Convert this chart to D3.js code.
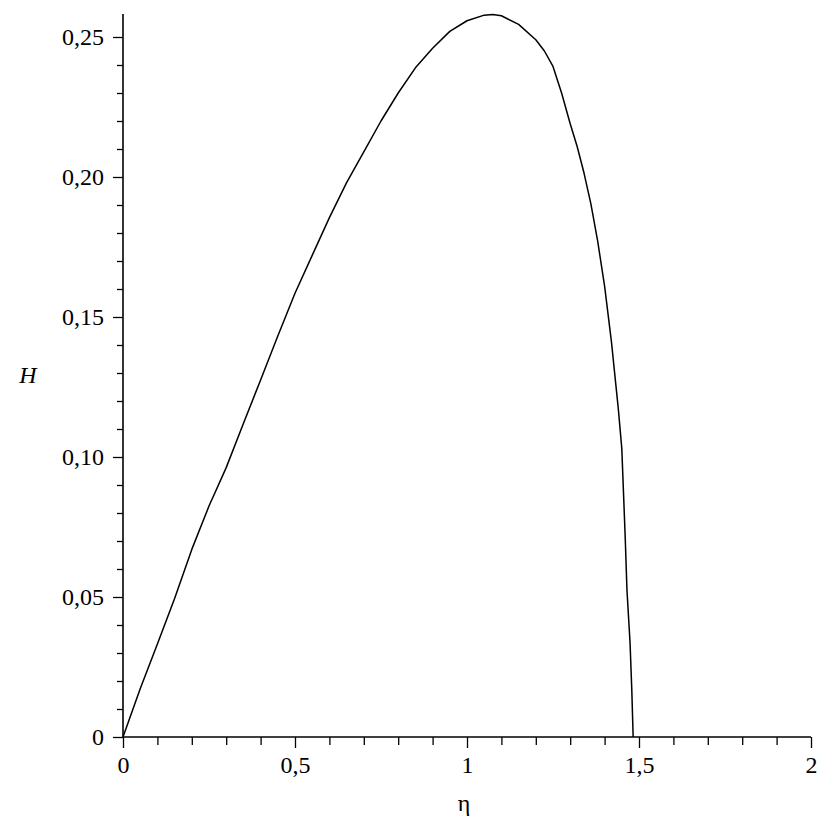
<!DOCTYPE html>
<html>
<head>
<meta charset="utf-8">
<script src="https://cdn.jsdelivr.net/npm/d3@7"></script>
<style>
  html, body { margin: 0; padding: 0; background: #fff; }
  svg { display: block; }
  .tick text { font-family: "Liberation Serif", "DejaVu Serif", serif; font-size: 24px; fill: #000; }
</style>
</head>
<body>
<svg id="chart" width="830" height="830"></svg>
<script>
// Data
const eta = [0, 0.05, 0.1, 0.15, 0.2, 0.25, 0.3, 0.35, 0.4, 0.45, 0.5, 0.55, 0.6, 0.65, 0.7,
  0.75, 0.8, 0.85, 0.9, 0.95, 1.0, 1.05, 1.075, 1.1, 1.15, 1.2, 1.225, 1.25, 1.275, 1.3, 1.32,
  1.34, 1.36, 1.38, 1.4, 1.42, 1.44, 1.45, 1.46, 1.465, 1.474, 1.479, 1.483];
const H = [0, 0.0172, 0.0332, 0.0495, 0.0670, 0.0825, 0.0962, 0.1120, 0.1275, 0.1432, 0.1585,
  0.1720, 0.1855, 0.1980, 0.2090, 0.2200, 0.2300, 0.2390, 0.2460, 0.2520, 0.2558, 0.2578,
  0.2580, 0.2576, 0.2545, 0.2490, 0.2450, 0.2395, 0.2300, 0.2190, 0.2110,
  0.2015, 0.1905, 0.1770, 0.1610, 0.1410, 0.1170, 0.1030, 0.0710, 0.0525, 0.0336, 0.0170, 0];

const xMajor = [0, 0.5, 1, 1.5, 2];
const xMinor = d3.range(0, 21).map(i => i / 10).filter(v => Math.round(v * 10) % 5 !== 0);
const yMajor = [0, 0.05, 0.10, 0.15, 0.20, 0.25];
const yMinor = d3.range(0, 26).map(i => i / 100).filter(v => Math.round(v * 100) % 5 !== 0);
const xLabels = ["0", "0,5", "1", "1,5", "2"];
const yLabels = ["0", "0,05", "0,10", "0,15", "0,20", "0,25"];

const svg = d3.select("#chart");
const x = d3.scaleLinear().domain([0, 2]).range([123, 811]);
const y = d3.scaleLinear().domain([0, 0.25]).range([737, 37]);
const yTop = 0.2582;

// minor ticks
svg.append("g").attr("transform", "translate(0,737)")
  .call(d3.axisBottom(x).tickValues(xMinor).tickSize(8).tickSizeOuter(0).tickFormat(""))
  .call(g => g.select(".domain").remove());
svg.append("g").attr("transform", "translate(123,0)")
  .call(d3.axisLeft(y).tickValues(yMinor).tickSize(6).tickSizeOuter(0).tickFormat(""))
  .call(g => g.select(".domain").remove());

// major ticks + labels
svg.append("g").attr("class", "xaxis").attr("transform", "translate(0,737)")
  .call(d3.axisBottom(x).tickValues(xMajor).tickSize(11).tickPadding(8).tickSizeOuter(0)
    .tickFormat((d, i) => xLabels[i]))
  .call(g => g.select(".domain").remove());
svg.append("g").attr("class", "yaxis").attr("transform", "translate(123,0)")
  .call(d3.axisLeft(y).tickValues(yMajor).tickSize(10).tickPadding(9).tickSizeOuter(0)
    .tickFormat((d, i) => yLabels[i]))
  .call(g => g.select(".domain").remove());

svg.selectAll(".tick line").attr("stroke", "#000").attr("stroke-width", 1.3);

// axis lines
svg.append("line").attr("x1", x(0)).attr("x2", x(2)).attr("y1", y(0)).attr("y2", y(0))
  .attr("stroke", "#000").attr("stroke-width", 1.6);
svg.append("line").attr("x1", x(0)).attr("x2", x(0)).attr("y1", y(0)).attr("y2", y(yTop))
  .attr("stroke", "#000").attr("stroke-width", 1.6);

// curve
const line = d3.line().x((d, i) => x(eta[i])).y((d, i) => y(H[i]));
svg.append("path").datum(H).attr("d", line)
  .attr("fill", "none").attr("stroke", "#000").attr("stroke-width", 1.5)
  .attr("stroke-linejoin", "round");

// axis titles
svg.append("text").attr("x", 28).attr("y", 383).attr("text-anchor", "middle")
  .style("font-family", "'Liberation Serif', serif").style("font-style", "italic")
  .style("font-size", "24px").text("H");
svg.append("text").attr("x", 464).attr("y", 811).attr("text-anchor", "middle")
  .style("font-family", "'Liberation Serif', 'DejaVu Serif', serif")
  .style("font-size", "24px").text("η");
</script>
</body>
</html>
